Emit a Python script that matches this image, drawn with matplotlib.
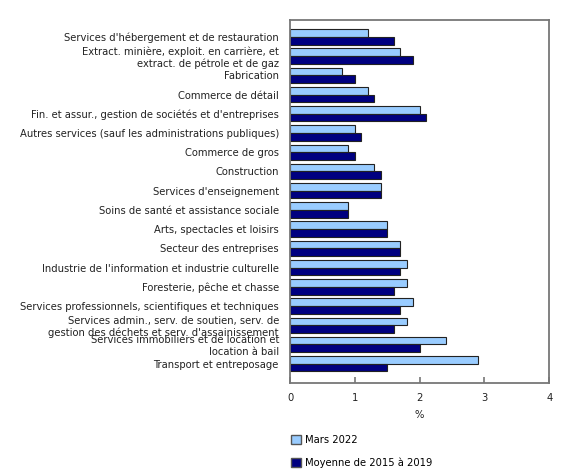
import matplotlib
matplotlib.use("Agg")
import matplotlib.pyplot as plt
import numpy as np
from matplotlib.patches import Patch

categories = [
    "Services d'hébergement et de restauration",
    "Extract. minière, exploit. en carrière, et\nextract. de pétrole et de gaz",
    "Fabrication",
    "Commerce de détail",
    "Fin. et assur., gestion de sociétés et d'entreprises",
    "Autres services (sauf les administrations publiques)",
    "Commerce de gros",
    "Construction",
    "Services d'enseignement",
    "Soins de santé et assistance sociale",
    "Arts, spectacles et loisirs",
    "Secteur des entreprises",
    "Industrie de l'information et industrie culturelle",
    "Foresterie, pêche et chasse",
    "Services professionnels, scientifiques et techniques",
    "Services admin., serv. de soutien, serv. de\ngestion des déchets et serv. d'assainissement",
    "Services immobiliers et de location et\nlocation à bail",
    "Transport et entreposage",
]
mars_2022 = [1.2, 1.7, 0.8, 1.2, 2.0, 1.0, 0.9, 1.3, 1.4, 0.9, 1.5, 1.7, 1.8, 1.8, 1.9, 1.8, 2.4, 2.9]
moyenne_2015_2019 = [1.6, 1.9, 1.0, 1.3, 2.1, 1.1, 1.0, 1.4, 1.4, 0.9, 1.5, 1.7, 1.7, 1.6, 1.7, 1.6, 2.0, 1.5]
series_labels = ["Mars 2022", "Moyenne de 2015 à 2019"]
x_ticks = [0, 1, 2, 3, 4]

light = "#99CCFF"
dark = "#000080"
fs = 7.2

fig = plt.figure(figsize=(5.8, 4.75), dpi=100)
ax = fig.add_axes([0.5, 0.193, 0.447, 0.765])

y = np.arange(len(categories))
h = 0.4
ax.barh(y - h / 2, mars_2022, height=h, color=light, edgecolor="#222222", linewidth=0.8)
ax.barh(y + h / 2, moyenne_2015_2019, height=h, color=dark, edgecolor="#222222", linewidth=0.8)

ax.set_ylim(18.02, -0.88)
ax.set_xlim(0, 4)
ax.set_yticks(y)
ax.set_yticklabels(categories, fontsize=fs, color="#222222", linespacing=1.15)
ax.tick_params(axis="y", length=0, pad=8)
ax.set_xticks(x_ticks)
ax.set_xticklabels([str(t) for t in x_ticks], fontsize=fs, color="#222222")
ax.tick_params(axis="x", direction="in", length=4, color="#777777", width=1.2, pad=7)
for s in ax.spines.values():
    s.set_color("#777777")
    s.set_linewidth(1.3)
ax.set_xlabel("%", fontsize=fs, color="#222222", labelpad=5)

handles = [Patch(facecolor=light, edgecolor="#555555", linewidth=1),
           Patch(facecolor=dark, edgecolor="#555555", linewidth=1)]
fig.legend(handles, series_labels, loc="upper left", bbox_to_anchor=(0.494, 0.092),
           frameon=False, fontsize=fs, handlelength=1.0, handleheight=1.0,
           handletextpad=0.4, labelspacing=1.25, borderaxespad=0)

fig.savefig("out.png", dpi=100)
